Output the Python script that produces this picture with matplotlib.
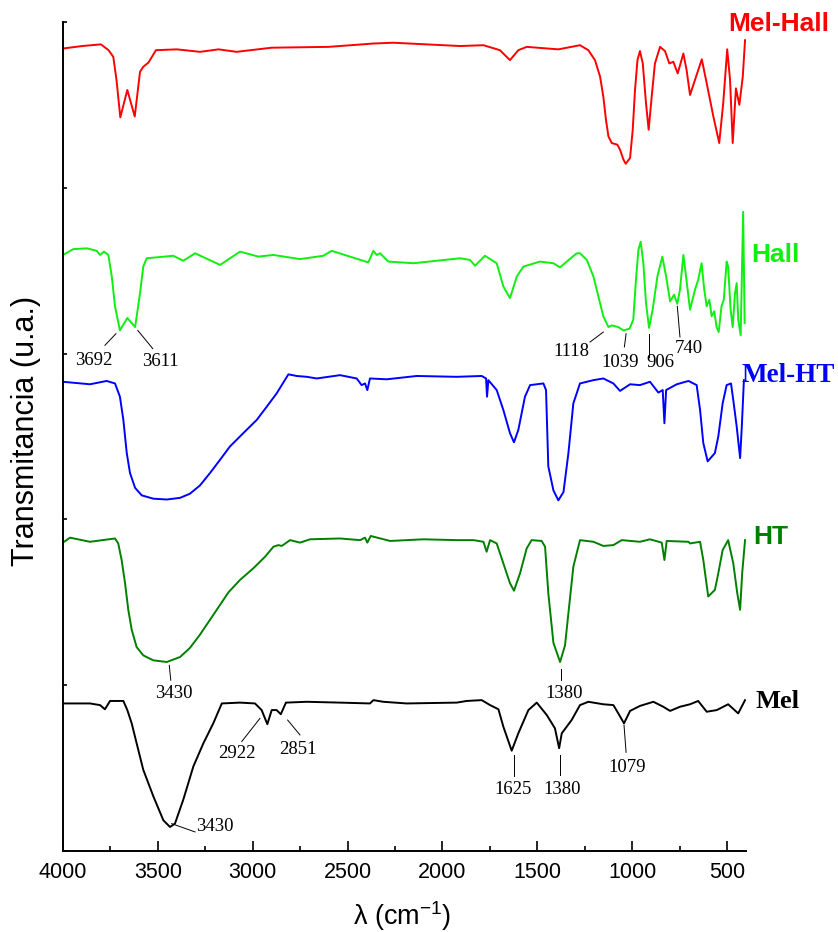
import numpy as np
import matplotlib
matplotlib.use('Agg')
import matplotlib.pyplot as plt
from matplotlib.ticker import MultipleLocator

plt.rcParams['mathtext.fontset'] = 'custom'
plt.rcParams['mathtext.rm'] = 'Liberation Sans'

# spectra: wavenumber (cm-1) and transmittance (stacked, arbitrary units)
mel_hall_wn = [4000, 3900, 3800, 3760, 3735, 3718, 3698, 3661, 3622, 3594, 3577, 3550, 3510, 3400,
               3278, 3180, 3085, 2900, 2600, 2366, 2260, 1907, 1784, 1697, 1644, 1600, 1556, 1389,
               1275, 1231, 1196, 1169, 1152, 1138, 1125, 1108, 1078, 1064, 1046, 1034, 1011, 997,
               985, 972, 959, 944, 927, 913, 897, 880, 853, 827, 804, 783, 760, 730, 713, 695, 669,
               633, 607, 572, 541, 520, 499, 484, 470, 453, 435, 417, 405]
mel_hall_t = [96.8, 97.1, 97.3, 96.6, 95.8, 93.0, 88.5, 91.8, 88.6, 94.0, 94.6, 95.1, 96.6, 96.7,
              96.4, 96.7, 96.4, 96.9, 97.0, 97.4, 97.5, 97.1, 97.2, 96.6, 95.4, 96.6, 97.0, 96.7,
              97.2, 96.6, 95.4, 93.4, 91.0, 88.2, 86.2, 85.4, 85.2, 84.6, 83.4, 82.9, 83.6, 87.0,
              91.8, 95.4, 96.5, 95.0, 90.2, 87.0, 91.0, 95.0, 97.0, 96.5, 95.0, 95.2, 93.8, 96.2, 94.2,
              91.2, 93.0, 95.5, 92.6, 88.6, 85.4, 90.2, 96.7, 93.0, 85.4, 92.0, 90.0, 93.4, 97.8]

hall_wn = [4000, 3946, 3875, 3822, 3805, 3784, 3761, 3743, 3726, 3700, 3661, 3620, 3594, 3577, 3559,
           3419, 3366, 3304, 3172, 3067, 2970, 2891, 2751, 2628, 2584, 2391, 2364, 2347, 2329, 2285,
           2153, 1907, 1855, 1828, 1776, 1714, 1679, 1644, 1608, 1573, 1486, 1415, 1380, 1345, 1292,
           1275, 1239, 1204, 1178, 1152, 1125, 1108, 1090, 1073, 1046, 1014, 994, 980, 967, 955, 941,
           927, 911, 892, 867, 841, 821, 800, 779, 762, 748, 730, 716, 695, 669, 652, 634, 620, 607,
           593, 581, 567, 555, 544, 529, 517, 502, 494, 481, 470, 458, 449, 441, 428, 415, 407]
hall_t = [71.9, 72.6, 72.7, 72.4, 71.9, 72.3, 71.9, 69.3, 65.7, 62.8, 64.3, 63.2, 67.3, 70.5, 71.5,
          71.8, 71.2, 72.1, 70.7, 72.3, 71.7, 71.9, 71.4, 71.8, 72.4, 71.0, 72.4, 71.9, 72.1, 71.1,
          70.9, 71.5, 71.3, 70.6, 71.8, 70.9, 68.1, 66.7, 69.3, 70.5, 71.1, 70.9, 70.4, 71.1, 72.1,
          72.1, 71.3, 69.3, 66.9, 64.5, 63.2, 63.4, 63.3, 63.2, 62.8, 63.0, 64.1, 68.9, 72.5, 73.5, 70.9,
          66.1, 63.1, 65.3, 69.3, 71.7, 69.3, 66.3, 67.1, 66.0, 67.7, 71.9, 69.3, 65.3, 67.7, 68.9, 70.9,
          67.7, 65.7, 66.5, 64.5, 65.1, 63.2, 62.6, 65.7, 66.5, 71.1, 70.5, 65.3, 63.2, 67.3, 68.5, 64.1,
          62.2, 77.1, 63.7]

mel_ht_wn = [4000, 3858, 3770, 3726, 3700, 3682, 3664, 3647, 3620, 3585, 3524, 3453, 3383, 3331,
             3278, 3225, 3172, 3120, 3050, 2979, 2926, 2874, 2847, 2812, 2768, 2715, 2663, 2540,
             2452, 2426, 2408, 2396, 2382, 2294, 2136, 1925, 1793, 1770, 1765, 1758, 1714, 1679,
             1644, 1623, 1600, 1565, 1538, 1468, 1454, 1442, 1415, 1389, 1362, 1336, 1310, 1275,
             1204, 1152, 1099, 1064, 1011, 959, 906, 862, 839, 830, 821, 765, 703, 660, 642, 625,
             602, 564, 546, 523, 502, 479, 467, 449, 431, 422, 411]
mel_ht_t = [56.6, 56.3, 56.7, 56.4, 54.8, 52.0, 48.0, 45.6, 43.8, 42.9, 42.5, 42.4, 42.6, 43.1,
            44.1, 45.6, 47.2, 48.8, 50.4, 52.0, 53.6, 55.2, 56.2, 57.5, 57.3, 57.2, 57.0, 57.4,
            57.0, 56.2, 56.4, 55.6, 57.0, 56.9, 57.3, 57.2, 57.3, 57.0, 54.8, 56.8, 55.6, 53.2,
            50.4, 49.3, 50.8, 54.8, 56.2, 56.4, 55.6, 46.4, 43.5, 42.3, 43.3, 48.0, 54.0, 56.4,
            56.8, 57.0, 56.4, 55.5, 56.3, 56.2, 56.6, 55.3, 55.6, 51.6, 55.6, 56.3, 56.7, 56.2, 53.2, 49.2,
            47.0, 48.0, 50.0, 54.0, 56.2, 56.4, 54.4, 51.2, 47.4, 51.2, 56.8]

ht_wn = [4000, 3963, 3858, 3726, 3709, 3691, 3673, 3656, 3638, 3612, 3577, 3524, 3453, 3383, 3331,
         3278, 3225, 3172, 3128, 3067, 2997, 2935, 2891, 2865, 2847, 2803, 2751, 2698, 2540, 2434,
         2408, 2396, 2378, 2276, 2101, 1925, 1837, 1784, 1767, 1749, 1714, 1679, 1644, 1623, 1591,
         1556, 1530, 1477, 1459, 1442, 1415, 1380, 1354, 1336, 1310, 1275, 1204, 1152, 1099, 1055,
         959, 906, 844, 830, 818, 703, 695, 642, 625, 599, 564, 546, 523, 494, 467, 446, 431, 420, 405]
ht_t = [37.2, 37.8, 37.3, 37.7, 37.1, 35.1, 32.3, 29.1, 26.7, 24.6, 23.6, 23.0, 22.8, 23.4, 24.5,
        26.1, 27.9, 29.7, 31.2, 32.7, 34.1, 35.5, 36.7, 36.9, 36.8, 37.5, 37.2, 37.6, 37.7, 37.5,
        37.8, 37.2, 38.0, 37.4, 37.6, 37.5, 37.5, 37.3, 36.1, 37.5, 37.1, 34.7, 32.3, 31.4, 33.5,
        36.5, 37.5, 37.4, 36.7, 31.1, 25.1, 22.8, 24.8, 28.7, 34.3, 37.5, 37.3, 36.8, 36.9, 37.5,
        37.3, 37.6, 37.2, 35.1, 37.4, 37.3, 37.1, 37.3, 35.1, 30.7, 31.5, 33.5, 36.3, 37.5, 34.7, 31.1,
        29.1, 33.5, 37.5]

mel_wn = [4000, 3858, 3805, 3779, 3752, 3682, 3661, 3638, 3612, 3577, 3524, 3471, 3436, 3410, 3366,
          3313, 3260, 3208, 3163, 3067, 2988, 2953, 2923, 2900, 2874, 2852, 2825, 2715, 2540, 2382,
          2364, 2312, 2189, 1925, 1872, 1793, 1749, 1705, 1679, 1635, 1600, 1547, 1503, 1450, 1407,
          1385, 1371, 1319, 1275, 1231, 1152, 1099, 1073, 1043, 1011, 959, 888, 836, 800, 748, 695,
          652, 607, 554, 494, 441, 405]
mel_t = [17.8, 17.8, 17.6, 17.1, 18.1, 18.1, 17.0, 15.4, 13.0, 9.8, 6.6, 3.7, 2.9, 3.3, 6.2,
         10.2, 13.0, 15.4, 17.8, 17.9, 17.8, 17.0, 15.3, 17.0, 17.0, 16.5, 17.9, 18.0, 17.9, 17.8,
         18.2, 18.0, 17.8, 17.9, 18.1, 18.2, 17.6, 17.1, 15.0, 12.1, 14.2, 17.0, 17.9, 16.4, 14.8,
         12.4, 14.2, 15.8, 17.6, 18.0, 17.7, 17.6, 16.6, 15.4, 16.9, 17.5, 18.0, 17.4, 16.9, 17.4, 17.7,
         18.1, 16.8, 17.0, 17.7, 16.6, 18.2]

# peak labels: text, leader line start, leader line end, text centre
peak_labels = [
    ('3692', (3721, 62.4), (3779, 61.0), (3840, 59.2)),
    ('3611', (3606, 62.8), (3527, 60.6), (3489, 59.0)),
    ('1118', (1152, 62.6), (1222, 61.4), (1319, 60.2)),
    ('1039', (1032, 62.4), (1041, 60.8), (1064, 58.9)),
    ('906', (913, 62.4), (913, 59.6), (849, 58.9)),
    ('740', (762, 65.7), (748, 62.0), (699, 60.6)),
    ('3430', (3440, 22.4), (3432, 20.6), (3415, 19.0)),
    ('1380', (1376, 22.0), (1376, 20.6), (1359, 19.0)),
    ('2922', (2962, 16.0), (3058, 13.2), (3081, 11.8)),
    ('2851', (2816, 15.8), (2751, 14.0), (2760, 12.3)),
    ('1625', (1625, 11.6), (1625, 9.0), (1630, 7.4)),
    ('1380', (1380, 11.6), (1380, 9.2), (1371, 7.4)),
    ('1079', (1043, 15.2), (1032, 11.9), (1029, 10.1)),
]

fig = plt.figure(figsize=(8.38, 9.32), dpi=100)
ax = fig.add_axes([0.0752, 0.0869, 0.8150, 0.8895])

spectra = [
    (mel_hall_wn, mel_hall_t, '#ff0000'),
    (hall_wn, hall_t, '#11ee11'),
    (mel_ht_wn, mel_ht_t, '#0000ff'),
    (ht_wn, ht_t, '#008000'),
    (mel_wn, mel_t, '#000000'),
]
for wn, t, c in spectra:
    ax.plot(wn, t, color=c, lw=1.4, solid_joinstyle='round')

for txt, p0, p1, pt in peak_labels:
    ax.plot([p0[0], p1[0]], [p0[1], p1[1]], color='black', lw=0.7)
    ax.text(pt[0], pt[1], txt, ha='center', va='center', fontsize=13.5,
            family='Liberation Serif')
# the 3430 label of Mel sits to the right of its leader
ax.plot([3427, 3304], [3.3, 2.3], color='black', lw=0.7)
ax.text(3300, 2.9, '3430', ha='left', va='center', fontsize=13.5, family='Liberation Serif')

# sample names
ax.text(495, 99.8, 'Mel-Hall', color='#ff0000', fontsize=19, fontweight='bold',
        family='Liberation Sans', ha='left', va='center')
ax.text(370, 71.9, 'Hall', color='#11ee11', fontsize=19, fontweight='bold',
        family='Liberation Sans', ha='left', va='center')
ax.text(422, 57.3, 'Mel-HT', color='#0000ff', fontsize=19.5, fontweight='bold',
        family='Liberation Serif', ha='left', va='center')
ax.text(364, 37.9, 'HT', color='#008000', fontsize=19, fontweight='bold',
        family='Liberation Sans', ha='left', va='center')
ax.text(352, 18.0, 'Mel', color='#000000', fontsize=19, fontweight='bold',
        family='Liberation Serif', ha='left', va='center')

ax.set_xlim(4000, 400)
ax.set_ylim(0, 100)
ax.spines['top'].set_visible(False)
ax.spines['right'].set_visible(False)
for s in ('left', 'bottom'):
    ax.spines[s].set_linewidth(1.4)
ax.xaxis.set_major_locator(MultipleLocator(500))
ax.xaxis.set_minor_locator(MultipleLocator(250))
ax.yaxis.set_major_locator(MultipleLocator(20))
ax.tick_params(axis='x', which='major', direction='in', length=7, width=1.2, labelsize=15.5, pad=8)
ax.tick_params(axis='x', which='minor', direction='in', length=3.6, width=1.2)
ax.tick_params(axis='y', which='major', direction='in', length=3, width=1.2, labelleft=False)
for lab in ax.get_xticklabels():
    lab.set_family('Liberation Sans')

fig.text(26 / 838, 1 - 431 / 932, 'Transmitancia (u.a.)', rotation=90, ha='center', va='center',
         fontsize=22, family='Liberation Sans')
fig.text(402 / 838, 1 - 916 / 932, r'λ (cm$^{\mathrm{-1}}$)', ha='center', va='center',
         fontsize=19.5, family='Liberation Sans')

fig.savefig('out.png', dpi=100)
